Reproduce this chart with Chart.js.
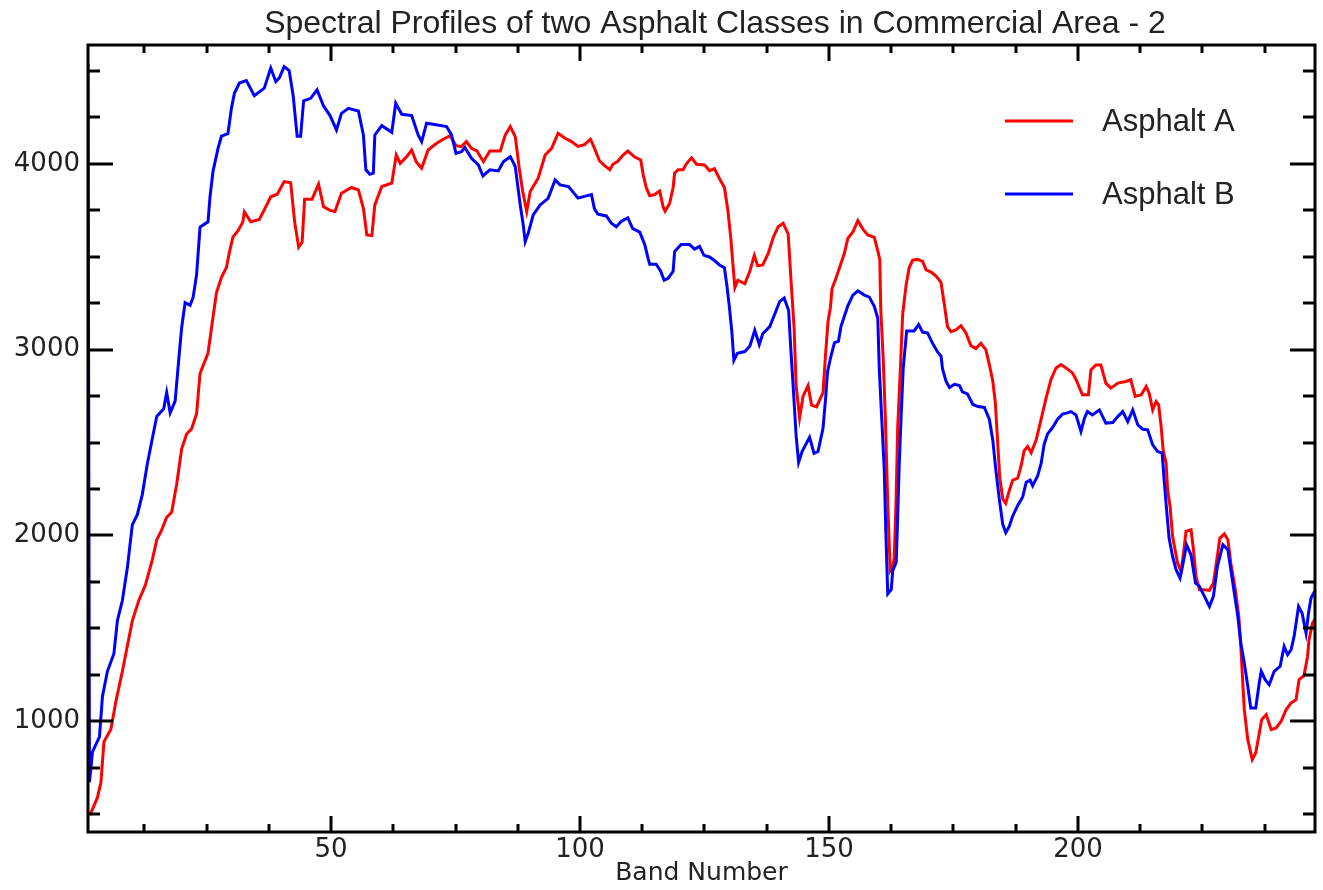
<!DOCTYPE html>
<html>
<head>
<meta charset="utf-8">
<title>Spectral Profiles of two Asphalt Classes</title>
<script src="https://cdn.jsdelivr.net/npm/chart.js@4.4.0/dist/chart.umd.min.js"></script>
<style>
  html, body { margin: 0; padding: 0; background: #fff; }
  #wrap { width: 1323px; height: 890px; }
</style>
</head>
<body>
<div id="wrap"><canvas id="spectra" width="1323" height="890"></canvas></div>
<script>
// band numbers / reflectance values
var bandsA = [1.6,3.1,3.8,4.4,5.8,6.8,8.1,9.1,10.1,11.4,12.7,14.1,15.0,16.0,17.0,18.0,19.0,20.0,21.0,22.0,23.0,23.7,24.3,25.3,26.0,27.0,28.0,29.0,29.6,30.3,31.3,32.3,32.6,33.9,35.6,36.9,37.9,39.2,40.6,41.9,42.7,43.5,44.2,44.7,46.2,47.5,48.5,49.8,50.8,51.5,52.1,54.1,55.5,56.5,57.2,58.2,58.8,60.2,62.2,63.1,63.9,65.2,66.2,67.1,68.2,69.5,71.2,72.9,73.9,75.1,76.2,77.2,78.2,79.3,80.6,81.9,84.0,85.0,86.0,87.0,87.8,88.5,89.3,90.0,91.6,93.0,94.3,95.6,97.0,98.3,99.6,100.9,102.1,102.9,103.9,105.0,106.0,106.6,107.6,108.6,109.6,111.0,112.2,112.7,113.3,114.0,115.0,116.0,116.7,117.1,118.0,118.7,119.0,119.7,120.7,121.4,122.4,123.4,125.0,126.0,127.0,128.0,129.0,129.7,130.3,130.7,131.1,131.7,133.1,134.1,135.0,135.7,136.7,137.8,138.8,139.8,140.8,141.8,142.4,143.0,143.4,144.1,144.8,145.8,146.5,147.5,148.8,149.3,149.8,150.3,150.6,151.4,152.4,153.1,153.8,154.8,155.8,156.8,157.8,159.1,159.8,160.2,160.4,160.9,161.3,161.8,162.3,162.8,163.1,163.5,163.8,164.3,164.8,165.5,166.1,166.8,167.8,168.8,169.5,170.5,171.5,172.5,173.2,173.8,174.5,175.5,176.5,177.5,178.5,179.5,180.5,181.5,182.2,182.9,183.4,183.9,184.3,184.9,185.5,186.2,186.9,187.9,188.6,189.2,189.9,190.6,191.6,192.6,193.6,194.6,195.6,196.6,197.6,198.9,199.6,200.9,202.1,202.6,203.6,204.6,205.6,206.6,208.0,209.6,210.6,211.5,212.7,213.7,214.3,215.0,215.7,216.2,216.7,217.1,217.7,218.0,218.5,219.0,219.5,220.0,220.7,221.2,221.7,222.7,223.2,223.7,224.4,225.4,226.4,227.2,227.7,228.5,229.4,230.1,230.7,231.6,232.3,232.7,233.1,233.4,234.1,235.0,235.7,236.3,236.9,237.8,238.8,239.8,240.8,241.8,242.8,243.8,244.4,245.4,246.1,246.4,247.1,247.5];
var valuesA = [495,590,672,889,957,1106,1269,1405,1541,1650,1731,1867,1976,2030,2098,2125,2275,2465,2546,2574,2655,2872,2913,2981,3117,3307,3389,3443,3525,3606,3639,3688,3742,3688,3701,3769,3823,3837,3905,3899,3688,3552,3579,3810,3810,3891,3769,3750,3744,3797,3842,3873,3860,3761,3618,3614,3779,3878,3896,4048,4003,4039,4075,4012,3977,4075,4111,4138,4152,4098,4093,4120,4084,4070,4012,4070,4070,4156,4201,4147,3977,3851,3744,3851,3923,4048,4084,4165,4138,4120,4094,4104,4133,4085,4017,3989,3969,3998,4014,4046,4069,4037,4021,3941,3873,3829,3835,3854,3768,3745,3787,3873,3950,3969,3969,4002,4033,3998,3994,3964,3975,3921,3873,3749,3595,3460,3335,3374,3355,3422,3508,3451,3456,3518,3604,3662,3681,3624,3364,3115,2807,2634,2750,2807,2702,2692,2769,2971,3150,3230,3328,3384,3464,3520,3600,3634,3695,3649,3618,3604,3532,3486,3215,2943,2649,2173,1811,1834,1879,2218,2581,2875,3192,3350,3441,3482,3486,3475,3430,3418,3396,3362,3237,3124,3097,3106,3129,3090,3022,3006,3034,3000,2920,2830,2717,2490,2309,2196,2173,2241,2298,2309,2377,2456,2479,2445,2513,2626,2739,2841,2902,2920,2902,2875,2840,2757,2757,2891,2918,2918,2820,2793,2820,2829,2838,2748,2757,2802,2766,2676,2721,2703,2587,2461,2389,2246,2156,1995,1923,1851,1807,1905,2022,2031,1923,1780,1708,1708,1704,1744,1834,1986,2009,1977,1851,1708,1565,1403,1206,1063,901,794,829,919,1009,1036,955,964,1000,1063,1099,1116,1224,1246,1349,1439,1529,1547];

var bandsB = [1.2,1.5,2.1,3.5,4.1,5.1,6.4,7.1,8.1,9.1,10.1,11.1,12.1,13.1,14.1,15.0,16.4,17.0,17.7,18.7,19.4,20.0,20.7,21.7,22.3,23.0,23.7,25.3,25.7,26.3,27.3,28.0,29.3,30.0,30.6,31.6,33.0,34.6,36.6,37.9,38.9,39.6,40.6,41.6,42.4,43.2,43.9,44.5,45.9,47.2,48.5,49.8,51.1,52.1,53.5,55.5,56.5,57.0,57.8,58.5,58.8,60.2,62.2,63.0,64.2,66.2,67.5,68.2,69.2,70.5,73.2,74.2,75.1,76.2,76.9,78.2,79.6,80.5,81.9,83.6,84.6,86.0,87.0,88.0,88.6,89.0,89.6,90.6,92.0,93.6,95.0,96.0,97.7,99.6,100.9,102.3,102.9,103.6,105.3,106.3,107.3,108.3,109.6,110.6,112.0,113.0,113.7,114.0,115.3,116.2,116.9,117.7,118.7,119.0,120.3,122.0,123.0,124.0,124.9,126.0,127.0,128.0,129.0,129.5,130.0,130.5,130.9,131.6,133.1,134.1,135.1,136.0,136.7,138.1,139.1,140.1,141.0,141.9,142.3,142.8,143.4,143.9,144.6,146.1,147.0,147.8,148.8,149.3,149.7,150.4,151.1,151.9,152.4,153.1,153.8,154.8,155.8,157.1,158.1,159.1,159.8,160.1,160.6,161.1,161.4,161.8,162.5,162.8,163.5,163.8,164.1,164.5,164.9,165.6,166.5,167.1,168.0,168.8,169.8,170.8,171.8,172.5,172.8,173.5,174.2,175.2,176.2,176.8,177.8,178.9,179.9,181.2,182.2,182.9,183.5,184.2,184.9,185.5,186.2,186.9,187.9,188.9,189.6,190.4,190.9,191.9,192.6,193.2,193.9,194.9,195.9,196.9,197.9,198.6,199.6,200.6,201.3,201.9,202.9,204.3,205.6,207.0,208.0,209.0,210.0,211.0,212.0,213.0,214.0,215.0,216.0,216.9,217.3,217.8,218.3,219.0,219.7,220.5,221.0,221.8,222.7,223.6,224.4,225.4,226.4,227.2,228.0,229.1,230.1,231.1,232.1,232.7,233.4,234.1,234.7,235.7,236.4,236.8,237.6,238.4,239.4,240.6,241.4,242.1,242.8,243.4,244.3,245.0,245.8,246.3,246.8,247.5];
var valuesB = [4540,672,835,916,1134,1269,1364,1541,1650,1826,2057,2112,2220,2383,2519,2641,2682,2769,2660,2723,2940,3117,3253,3239,3280,3402,3660,3688,3823,3959,4082,4149,4163,4299,4380,4435,4448,4367,4408,4516,4443,4462,4524,4503,4367,4149,4149,4340,4353,4399,4312,4260,4183,4272,4299,4285,4156,3968,3944,3950,4156,4206,4170,4326,4267,4260,4156,4120,4219,4213,4201,4156,4057,4066,4088,4030,3995,3935,3968,3962,4012,4039,3986,3779,3672,3582,3627,3726,3779,3815,3914,3887,3878,3816,3825,3835,3758,3729,3720,3681,3662,3691,3710,3652,3633,3566,3489,3460,3460,3422,3374,3384,3422,3528,3566,3566,3541,3556,3508,3499,3480,3456,3441,3345,3230,3095,2942,2980,2990,3019,3105,3028,3086,3124,3191,3259,3278,3211,3019,2807,2538,2394,2452,2529,2442,2452,2577,2730,2880,2966,3038,3045,3124,3181,3237,3294,3317,3294,3283,3233,3169,2898,2626,2354,2037,1686,1709,1811,1856,2105,2377,2649,2898,3101,3101,3101,3135,3095,3090,3034,2988,2966,2898,2830,2796,2814,2807,2773,2762,2705,2694,2689,2626,2513,2354,2196,2060,2015,2049,2105,2162,2207,2286,2298,2268,2320,2388,2490,2547,2581,2626,2653,2660,2667,2649,2560,2631,2667,2649,2676,2605,2608,2640,2667,2613,2676,2596,2572,2569,2488,2452,2443,2300,2138,1986,1887,1816,1771,1834,1950,1896,1744,1726,1672,1618,1672,1834,1950,1923,1744,1565,1421,1314,1188,1072,1072,1206,1269,1224,1197,1269,1296,1403,1358,1385,1457,1618,1583,1475,1583,1663,1699];

var seriesNames = ["Asphalt A", "Asphalt B"];
var seriesColors = ["#ff0000", "#0000ff"];

// axis ticks
var xTickLabels = [50, 100, 150, 200];
var yTickLabels = [1000, 2000, 3000, 4000];
var xMinorStep = 12.5;
var yMinorStep = 250;

function toPoints(xs, ys) {
  var pts = [];
  for (var i = 0; i < xs.length; i++) {
    pts.push({x: xs[i], y: ys[i]});
  }
  return pts;
}

var tickFont = {family: "'DejaVu Sans', sans-serif", size: 26, weight: "normal"};
var labelFont = "'Liberation Sans', Arial, sans-serif";

// IDL style box: frame, inward ticks on all four sides, title and legend
var idlFrame = {
  id: "idlFrame",
  afterDraw: function(chart) {
    var ctx = chart.ctx;
    var a = chart.chartArea;
    var xs = chart.scales.x;
    var ys = chart.scales.y;
    ctx.save();
    ctx.strokeStyle = "#000";
    ctx.lineWidth = 3;
    ctx.lineCap = "butt";
    ctx.strokeRect(a.left, a.top, a.right - a.left, a.bottom - a.top);

    ctx.beginPath();
    // x ticks, bottom and top
    for (var v = xMinorStep; v < xs.max; v += xMinorStep) {
      var px = Math.round(xs.getPixelForValue(v));
      var len = xTickLabels.indexOf(v) >= 0 ? 16 : 8;
      ctx.moveTo(px, a.bottom);
      ctx.lineTo(px, a.bottom - len);
      ctx.moveTo(px, a.top);
      ctx.lineTo(px, a.top + len);
    }
    // y ticks, left and right
    for (var w = yMinorStep * 2; w < ys.max; w += yMinorStep) {
      var py = Math.round(ys.getPixelForValue(w));
      var ylen = yTickLabels.indexOf(w) >= 0 ? 25 : 12;
      ctx.moveTo(a.left, py);
      ctx.lineTo(a.left + ylen, py);
      ctx.moveTo(a.right, py);
      ctx.lineTo(a.right - ylen, py);
    }
    ctx.stroke();

    // title
    ctx.fillStyle = "#222";
    ctx.font = "32px " + labelFont;
    ctx.textAlign = "center";
    ctx.textBaseline = "alphabetic";
    ctx.fillText("Spectral Profiles of two Asphalt Classes in Commercial Area - 2", 715, 33);

    // legend
    var rows = [121, 194];
    ctx.font = "31px " + labelFont;
    ctx.textAlign = "left";
    for (var i = 0; i < seriesNames.length; i++) {
      ctx.strokeStyle = seriesColors[i];
      ctx.beginPath();
      ctx.moveTo(1005, rows[i]);
      ctx.lineTo(1073, rows[i]);
      ctx.stroke();
      ctx.fillStyle = "#222";
      ctx.fillText(seriesNames[i], 1102, rows[i] + 10);
    }
    ctx.restore();
  }
};

var ctx1 = document.getElementById("spectra");

var chart1 = new Chart(ctx1, {
  type: "line",
  data: {
    datasets: [
      {
        label: seriesNames[0],
        data: toPoints(bandsA, valuesA),
        borderColor: seriesColors[0],
        borderWidth: 3,
        order: 1
      },
      {
        label: seriesNames[1],
        data: toPoints(bandsB, valuesB),
        borderColor: seriesColors[1],
        borderWidth: 3,
        order: 0
      }
    ]
  },
  options: {
    responsive: false,
    animation: false,
    devicePixelRatio: 1,
    layout: {padding: {top: 45, right: 8, bottom: 0, left: 0}},
    elements: {
      point: {radius: 0},
      line: {tension: 0, fill: false}
    },
    plugins: {
      legend: {display: false},
      title: {display: false},
      tooltip: {enabled: false}
    },
    scales: {
      x: {
        type: "linear",
        min: 1.2,
        max: 247.6,
        grid: {display: false, drawTicks: false},
        border: {display: false},
        ticks: {
          font: tickFont,
          color: "#222",
          padding: 3,
          maxRotation: 0,
          callback: function(v) { return String(v); }
        },
        title: {
          display: true,
          text: "Band Number",
          font: {family: "'DejaVu Sans', sans-serif", size: 25},
          color: "#222",
          padding: {top: 0, bottom: 2}
        },
        afterBuildTicks: function(scale) {
          scale.ticks = xTickLabels.map(function(v) { return {value: v}; });
        },
        afterFit: function(scale) { scale.height = 58; }
      },
      y: {
        type: "linear",
        min: 404,
        max: 4640,
        grid: {display: false, drawTicks: false},
        border: {display: false},
        ticks: {
          font: tickFont,
          color: "#222",
          padding: 8,
          callback: function(v) { return String(v); }
        },
        afterBuildTicks: function(scale) {
          scale.ticks = yTickLabels.map(function(v) { return {value: v}; });
        },
        afterFit: function(scale) { scale.width = 88; }
      }
    }
  },
  plugins: [idlFrame]
});
</script>
</body>
</html>
